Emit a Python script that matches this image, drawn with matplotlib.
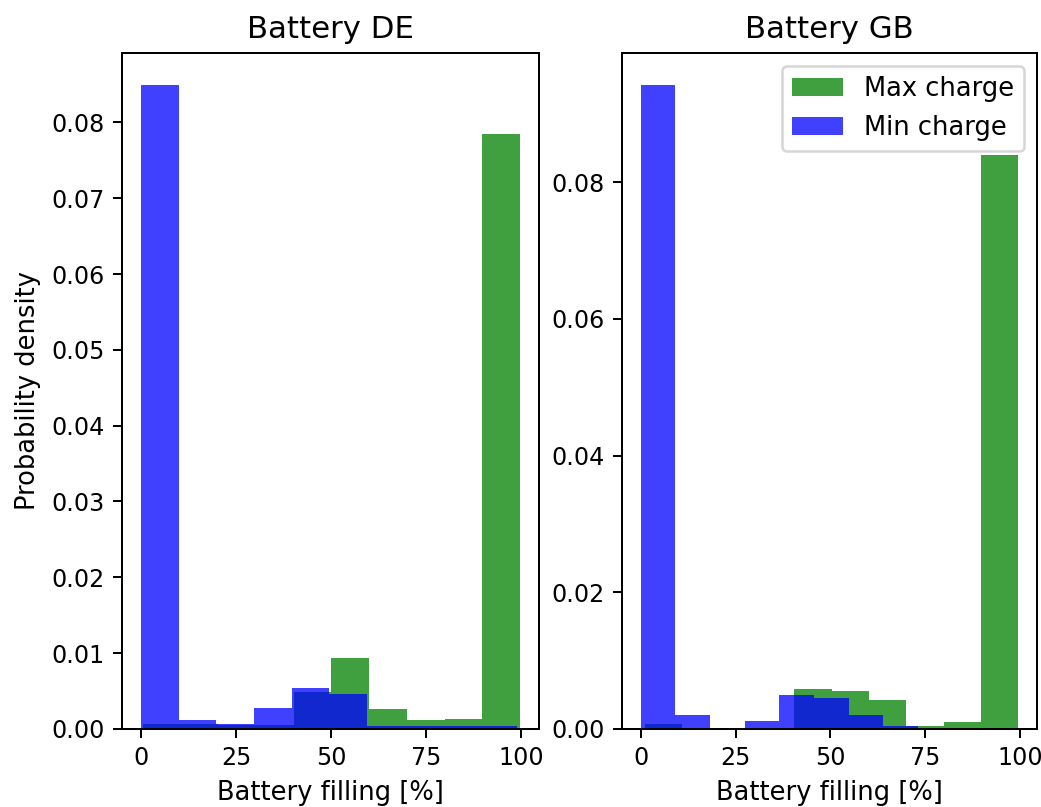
import numpy as np
import matplotlib
matplotlib.use("Agg")
import matplotlib.pyplot as plt

# bin edges and densities
de_max_edges = np.linspace(0.5, 99.7, 11)
de_max_dens = [0.0006, 0.0006, 0.0005, 0.0005, 0.0049, 0.0094, 0.0026, 0.0012, 0.00136, 0.0785]
de_min_edges = np.linspace(0.0, 99.0, 11)
de_min_dens = [0.0849, 0.00115, 0.0006, 0.0028, 0.00545, 0.0046, 0.0004, 0.0004, 0.0004, 0.0004]

gb_max_edges = np.linspace(1.1, 99.6, 11)
gb_max_dens = [0.0007, 0.0001, 0.0001, 0.0002, 0.0058, 0.0055, 0.0042, 0.0004, 0.001, 0.084]
gb_min_edges = np.linspace(0.0, 91.3, 11)
gb_min_dens = [0.0942, 0.00205, 0.00015, 0.0012, 0.005, 0.0045, 0.002, 0.0004, 0.00005, 0.0002]

titles = ["Battery DE", "Battery GB"]

DPI = 180
fig = plt.figure(figsize=(1041 / DPI, 807 / DPI), dpi=DPI)
ax1 = fig.add_axes([0.1172, 0.0967, 0.4006, 0.8376])
ax2 = fig.add_axes([0.5975, 0.0967, 0.3990, 0.8376])

data = [(de_max_edges, de_max_dens, de_min_edges, de_min_dens),
        (gb_max_edges, gb_max_dens, gb_min_edges, gb_min_dens)]

for ax, title, (me, md, ne, nd) in zip([ax1, ax2], titles, data):
    ax.hist(me[:-1], bins=me, weights=md, color='g', alpha=0.75, label='Max charge')
    ax.hist(ne[:-1], bins=ne, weights=nd, color='b', alpha=0.75, label='Min charge')
    ax.set_title(title, fontsize=12.3)
    ax.set_xlabel('Battery filling [%]', fontsize=10.3)
    ax.set_xticks([0, 25, 50, 75, 100])
    ax.tick_params(labelsize=9.5)

ax1.set_ylabel('Probability density', fontsize=10.3)
ax2.legend(loc='upper right', fontsize=10.3)

fig.savefig('out.png', dpi=DPI)
